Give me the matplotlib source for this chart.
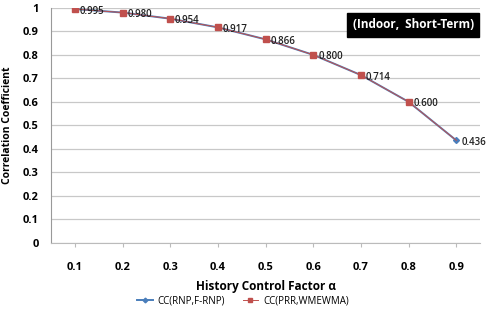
import matplotlib.pyplot as plt
import numpy as np

alpha = [0.1, 0.2, 0.3, 0.4, 0.5, 0.6, 0.7, 0.8, 0.9]
cc_rnp = [0.995, 0.980, 0.954, 0.917, 0.866, 0.800, 0.714, 0.600, 0.436]
cc_prr = [0.995, 0.980, 0.954, 0.917, 0.866, 0.800, 0.714, 0.600, 0.436]
labels = ['0.995', '0.980', '0.954', '0.917', '0.866', '0.800', '0.714', '0.600', '0.436']

plt.rcParams['font.family'] = ['Open Sans', 'DejaVu Sans']

fig = plt.figure(figsize=(4.86, 3.15), dpi=100)
ax = fig.add_axes([0.105, 0.229, 0.883, 0.746])

ax.plot(alpha, cc_rnp, color='#4a7ebb', marker='D', markersize=3, linewidth=1.4,
        label='CC(RNP,F-RNP)')
ax.plot(alpha, cc_prr, color='#c0504d', marker='s', markersize=4, linewidth=0.7,
        markevery=list(range(8)), label='CC(PRR,WMEWMA)')

for x, y, t in zip(alpha, cc_prr, labels):
    ax.annotate(t, (x, y), xytext=(3.5, -1.5), textcoords='offset points',
                fontsize=7, fontweight='semibold', va='center', ha='left', color='#222222')

ax.set_xlim(0.05, 0.95)
ax.set_ylim(0, 1)
ax.set_xticks(alpha)
ax.set_xticklabels([f'{a:.1f}' for a in alpha])
ax.set_yticks(np.arange(0, 1.01, 0.1))
ax.set_yticklabels(['0'] + [f'{v:.1f}' for v in np.arange(0.1, 0.95, 0.1)] + ['1'])
ax.tick_params(axis='x', length=3, color='#bbbbbb', labelsize=8, pad=11)
ax.tick_params(axis='y', length=0, labelsize=8, pad=9)
for lab in ax.get_xticklabels() + ax.get_yticklabels():
    lab.set_fontweight('bold')

ax.grid(axis='y', color='#c8c8c8', linewidth=0.9)
ax.set_axisbelow(True)
for s in ['top', 'right']:
    ax.spines[s].set_visible(False)
ax.spines['left'].set_color('#999999')
ax.spines['bottom'].set_color('#bbbbbb')

ax.set_xlabel('History Control Factor α', fontsize=8.5, fontweight='bold', labelpad=5)
ax.set_ylabel('Correlation Coefficient', fontsize=7.5, fontweight='bold', labelpad=7)

ax.text(0.985, 0.955, '(Indoor,  Short-Term)', transform=ax.transAxes, ha='right', va='top',
        fontsize=8.5, fontweight='bold', color='white',
        bbox=dict(boxstyle='square,pad=0.45', facecolor='black', edgecolor='black'))

fig.legend(loc='lower center', bbox_to_anchor=(0.5, 0.0), ncol=2, frameon=False,
           fontsize=7, handlelength=1.6, handletextpad=0.5, columnspacing=1.8, markerscale=0.8)

fig.savefig('out.png', dpi=100)
